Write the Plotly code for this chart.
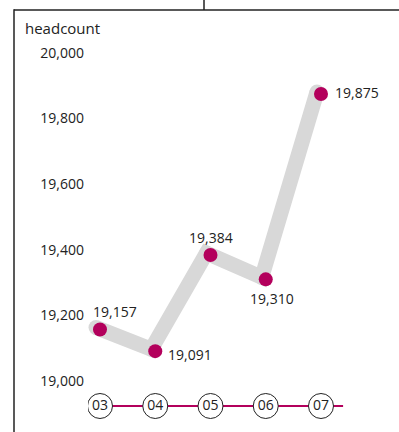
import plotly.graph_objects as go

categories = ["03", "04", "05", "06", "07"]
headcount = [19157, 19091, 19384, 19310, 19875]
y_ticks = [19000, 19200, 19400, 19600, 19800, 20000]
y_tick_labels = ["19,000", "19,200", "19,400", "19,600", "19,800", "20,000"]

MAGENTA = "#b3005c"
GRAY = "#d8d8d8"
TEXT = "#222222"
FONT = "Open Sans"

W, H = 399, 432
OFF = 0  # body margin removed below
L, PW = 88, 302
T, PH = 40, 382
R = W - L - PW
B = H - T - PH

x_range = [-0.2172, 5.249]
y_range = [18972.6, 20039.6]
# shadow offsets (px): left 4, up 2
sx = 4 / 55.25
sy = 2 / 0.328

# value label offsets from the dot (px)
label_dx = [15, 35, 0, 6, 36]
label_dy = [18, -3, 18, -19, 1]


def px_x(p):
    return (p - OFF - L) / PW


def px_y(p):
    return (T + PH - (p - OFF)) / PH


bottom_frac = px_y(390)

fig = go.Figure()

# gray shadow line (main axes, shifted ranges)
fig.add_trace(go.Scatter(
    x=categories, y=headcount, xaxis="x", yaxis="y",
    mode="lines+markers",
    line=dict(color=GRAY, width=15),
    marker=dict(color=GRAY, size=15),
    hoverinfo="skip", showlegend=False,
))

# main dots (overlay axes, true ranges)
fig.add_trace(go.Scatter(
    x=categories, y=headcount, xaxis="x2", yaxis="y3",
    mode="markers",
    marker=dict(color=MAGENTA, size=14),
    showlegend=False,
))

# circled category labels
fig.add_trace(go.Scatter(
    x=categories, y=[0.5] * len(categories), xaxis="x3", yaxis="y2",
    mode="markers+text",
    marker=dict(color="white", size=25, line=dict(color=TEXT, width=1)),
    text=categories, textposition="middle center",
    textfont=dict(family=FONT, size=14, color=TEXT),
    showlegend=False, hoverinfo="skip",
))

annotations = [
    dict(text="headcount", xref="paper", yref="paper", x=px_x(23), y=px_y(28),
         xanchor="left", yanchor="middle", showarrow=False,
         font=dict(family=FONT, size=15, color=TEXT)),
]
for i, (v, dx, dy) in enumerate(zip(headcount, label_dx, label_dy)):
    annotations.append(dict(
        text=f"{v:,}", xref="x2", yref="y3", x=i, y=v, xshift=dx, yshift=dy,
        xanchor="center", yanchor="middle", showarrow=False,
        font=dict(family=FONT, size=14, color=TEXT)))

fig.update_layout(
    width=W, height=H,
    margin=dict(l=L, r=R, t=T, b=B),
    paper_bgcolor="white", plot_bgcolor="white",
    font=dict(family=FONT, size=14, color=TEXT),
    xaxis=dict(type="category", range=[x_range[0] + sx, x_range[1] + sx], visible=False,
               domain=[0, 1], anchor="y"),
    yaxis=dict(range=[y_range[0] - sy, y_range[1] - sy], domain=[bottom_frac, 1],
               visible=False, anchor="x"),
    xaxis2=dict(type="category", range=x_range, overlaying="x", visible=False, anchor="y3"),
    yaxis3=dict(range=y_range, overlaying="y", side="left", anchor="x2", tickvals=y_ticks,
                ticktext=y_tick_labels, showgrid=False, zeroline=False, showline=False,
                ticks="", ticklabelstandoff=3,
                tickfont=dict(family=FONT, size=14, color=TEXT)),
    xaxis3=dict(type="category", range=x_range, domain=[0, 1], visible=False, anchor="y2"),
    yaxis2=dict(range=[0, 1], domain=[0, bottom_frac], visible=False, anchor="x3"),
    shapes=[
        dict(type="line", xref="x3", yref="y2", x0=-0.27, x1=4.4, y0=0.5, y1=0.5,
             line=dict(color=MAGENTA, width=2), layer="below"),
        dict(type="line", xref="paper", yref="paper", x0=px_x(14), x1=px_x(14),
             y0=px_y(9.3), y1=px_y(440), line=dict(color=TEXT, width=1.5)),
        dict(type="line", xref="paper", yref="paper", x0=px_x(14), x1=px_x(410),
             y0=px_y(10), y1=px_y(10), line=dict(color=TEXT, width=1.5)),
        dict(type="line", xref="paper", yref="paper", x0=px_x(204), x1=px_x(204),
             y0=px_y(-2), y1=px_y(10), line=dict(color=TEXT, width=1.5)),
    ],
    annotations=annotations,
)

fig.write_html("out.html", config={"displayModeBar": False},
               post_script="document.body.style.margin='0';")
